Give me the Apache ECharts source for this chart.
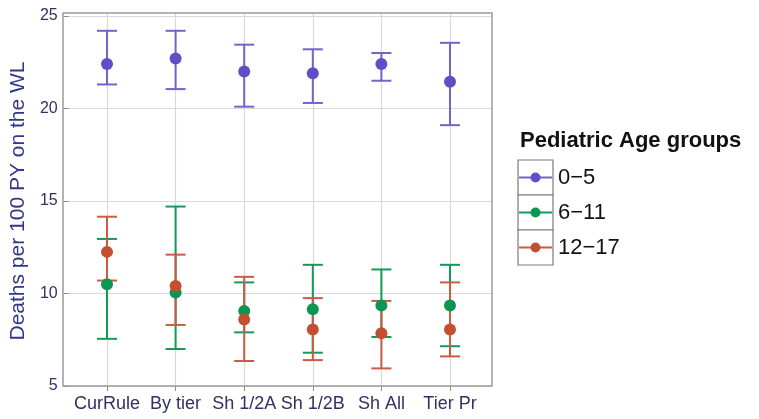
<!DOCTYPE html>
<html>
<head>
<meta charset="utf-8">
<script src="https://cdn.jsdelivr.net/npm/echarts@6/dist/echarts.min.js"></script>
<style>
  html, body { margin: 0; padding: 0; background: #ffffff; }
  #chart { width: 759px; height: 419px; }
</style>
</head>
<body>
<div id="chart"></div>
<script>
// Allocation rules compared on the waiting list
const categories = ['CurRule', 'By tier', 'Sh 1/2A', 'Sh 1/2B', 'Sh All', 'Tier Pr'];
const groupNames = ['0−5', '6−11', '12−17'];
const yTicks = [5, 10, 15, 20, 25];

// Deaths per 100 patient-years: estimate with lower / upper interval bounds
const mean0to5 = [22.4, 22.7, 22.0, 21.9, 22.4, 21.45];
const low0to5 = [21.3, 21.05, 20.1, 20.3, 21.5, 19.1];
const high0to5 = [24.2, 24.2, 23.45, 23.2, 23.0, 23.55];

const mean6to11 = [10.5, 10.05, 9.05, 9.15, 9.35, 9.35];
const low6to11 = [7.55, 7.0, 7.9, 6.8, 7.65, 7.15];
const high6to11 = [12.95, 14.7, 10.6, 11.55, 11.3, 11.55];

const mean12to17 = [12.25, 10.4, 8.6, 8.05, 7.85, 8.05];
const low12to17 = [10.7, 8.3, 6.35, 6.4, 5.95, 6.6];
const high12to17 = [14.15, 12.1, 10.9, 9.75, 9.6, 10.6];

const groups = [
  { name: groupNames[0], mean: mean0to5, low: low0to5, high: high0to5, bar: '#7264cc', dot: '#5d4fc6' },
  { name: groupNames[1], mean: mean6to11, low: low6to11, high: high6to11, bar: '#139a58', dot: '#0d9652' },
  { name: groupNames[2], mean: mean12to17, low: low12to17, high: high12to17, bar: '#cc5a44', dot: '#c24f30' }
];

const FONT = '"Liberation Sans", Arial, sans-serif';
const AXIS_TEXT = '#2f3262';
const GRID_LINE = '#d9d9d9';

const panel = { left: 63, width: 429, top: 13, bottom: 33 };
const tickTop = 16;        // where the 25 tick sits inside the panel
const yMin = yTicks[0];
const yMax = yTicks[yTicks.length - 1];
// panel extends slightly above the top tick
const yPanelMax = yMax + (tickTop - panel.top) * (yMax - yMin) / (419 - panel.bottom - tickTop);

function errorBars(g, z) {
  return {
    type: 'custom',
    name: g.name,
    xAxisIndex: 2,
    yAxisIndex: 2,
    z: z,
    silent: true,
    data: categories.map((c, i) => [i, g.low[i], g.high[i]]),
    encode: { x: 0, y: [1, 2] },
    renderItem: function (params, api) {
      const x = api.value(0);
      const lo = api.coord([x, api.value(1)]);
      const hi = api.coord([x, api.value(2)]);
      const hw = 10;
      const style = { stroke: g.bar, lineWidth: 2, fill: null };
      return {
        type: 'group',
        children: [
          { type: 'line', shape: { x1: lo[0], y1: lo[1], x2: hi[0], y2: hi[1] }, style: style },
          { type: 'line', shape: { x1: lo[0] - hw, y1: lo[1], x2: lo[0] + hw, y2: lo[1] }, style: style },
          { type: 'line', shape: { x1: hi[0] - hw, y1: hi[1], x2: hi[0] + hw, y2: hi[1] }, style: style }
        ]
      };
    }
  };
}

function points(g, z) {
  return {
    type: 'scatter',
    name: g.name,
    xAxisIndex: 2,
    yAxisIndex: 2,
    z: z,
    symbol: 'circle',
    symbolSize: 12,
    itemStyle: { color: g.dot, opacity: 1 },
    data: g.mean
  };
}

const series = [];
groups.forEach((g, k) => series.push(errorBars(g, 2 + k)));
groups.forEach((g, k) => series.push(points(g, 6 + k)));

// Legend drawn as keyed boxes beside the panel
const legendGraphics = [
  {
    type: 'text', left: 520, top: 130,
    style: { text: 'Pediatric Age groups', font: 'bold 22px ' + FONT, fill: '#111111' }
  }
];
groups.forEach((g, k) => {
  const top = 160 + k * 35;
  legendGraphics.push(
    { type: 'rect', shape: { x: 518, y: top, width: 35, height: 35 },
      style: { fill: '#ffffff', stroke: '#7a7a7a', lineWidth: 1.2 } },
    { type: 'line', shape: { x1: 519, y1: top + 17.5, x2: 552, y2: top + 17.5 },
      style: { stroke: g.bar, lineWidth: 2 } },
    { type: 'circle', shape: { cx: 535.5, cy: top + 17.5, r: 5 },
      style: { fill: g.dot } },
    { type: 'text', x: 558, y: top + 17.5,
      style: { text: g.name, font: '22px ' + FONT, fill: '#111111', verticalAlign: 'middle' } }
  );
});

const chart = echarts.init(document.getElementById('chart'), null, { renderer: 'canvas' });
chart.setOption({
  backgroundColor: '#ffffff',
  animation: false,
  textStyle: { fontFamily: FONT },
  grid: [
    // panel border
    { left: panel.left, width: panel.width, top: panel.top, bottom: panel.bottom,
      show: true, backgroundColor: 'transparent', borderColor: '#9a9a9a', borderWidth: 1.5, z: 10 },
    // value axis with horizontal grid lines
    { left: panel.left, width: panel.width, top: tickTop, bottom: panel.bottom },
    // category positions (ends sit inset inside the panel)
    { left: 107, width: 343, top: panel.top, bottom: panel.bottom }
  ],
  xAxis: [
    { gridIndex: 0, type: 'value', show: false },
    { gridIndex: 1, type: 'value', show: false },
    {
      gridIndex: 2, type: 'category', data: categories, boundaryGap: false,
      axisLine: { show: false },
      axisTick: { show: true, length: 5, lineStyle: { color: '#8c8c8c' } },
      axisLabel: { color: AXIS_TEXT, fontSize: 18, margin: 9, interval: 0 },
      splitLine: { show: true, lineStyle: { color: GRID_LINE, width: 1.2 } }
    }
  ],
  yAxis: [
    { gridIndex: 0, type: 'value', show: false },
    {
      gridIndex: 1, type: 'value', min: yMin, max: yMax, interval: 5,
      name: 'Deaths per 100 PY on the WL',
      nameLocation: 'middle', nameRotate: 90, nameGap: 36,
      nameTextStyle: { color: '#33378a', fontSize: 21 },
      axisLine: { show: false },
      axisTick: { show: true, length: 5, lineStyle: { color: '#8c8c8c' } },
      axisLabel: { color: AXIS_TEXT, fontSize: 16, margin: 11 },
      splitLine: { show: true, lineStyle: { color: GRID_LINE, width: 1.2 } }
    },
    { gridIndex: 2, type: 'value', min: yMin, max: yPanelMax, show: false }
  ],
  series: series,
  graphic: legendGraphics
});
</script>
</body>
</html>
